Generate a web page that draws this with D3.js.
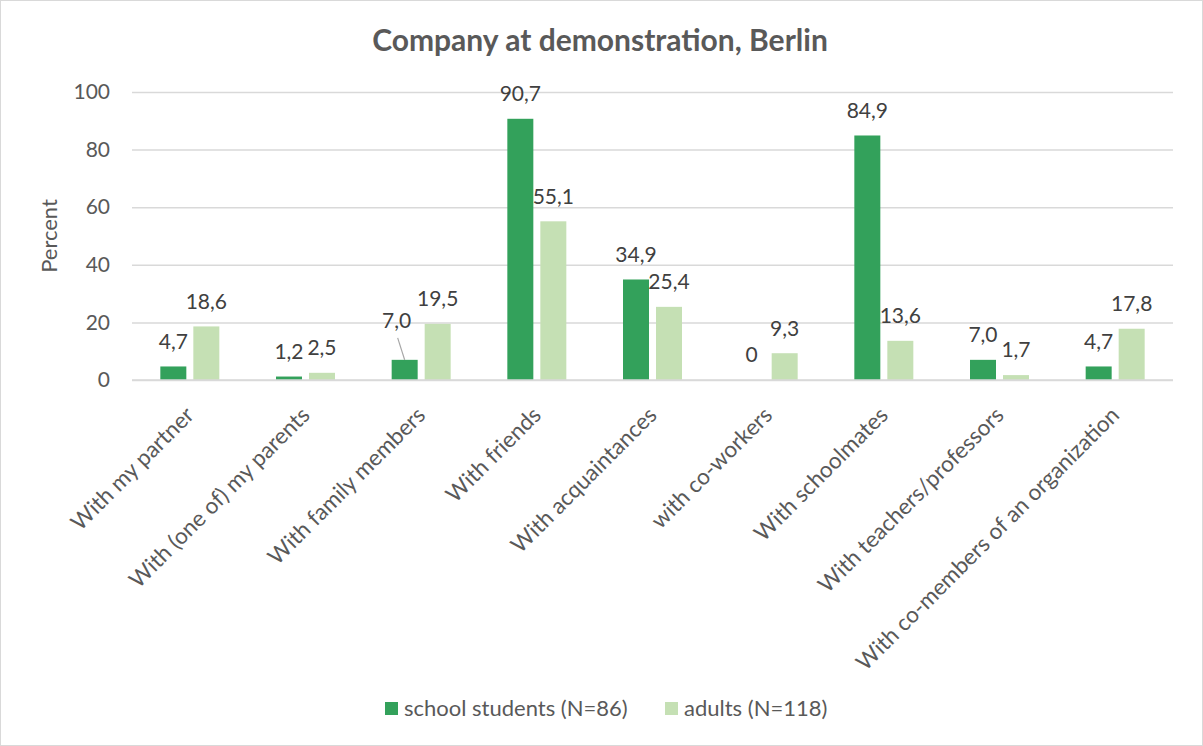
<!DOCTYPE html>
<html><head><meta charset="utf-8">
<script src="https://cdn.jsdelivr.net/npm/d3@7"></script>
<style>body{margin:0;background:#fff}svg{display:block}text{font-family:Lato,"Open Sans",sans-serif}</style>
</head><body>
<svg id="c" width="1203" height="746"></svg>
<script>
const categories = ["With my partner","With (one of) my parents","With family members","With friends","With acquaintances","with co-workers","With schoolmates","With teachers/professors","With co-members of an organization"];
const seriesNames = ["school students (N=86)","adults (N=118)"];
const schoolStudents = [4.7,1.2,7.0,90.7,34.9,0,84.9,7.0,4.7];
const adults = [18.6,2.5,19.5,55.1,25.4,9.3,13.6,1.7,17.8];
const yTicks = [0,20,40,60,80,100];
const colors = ["#33a15b","#c5e0b4"];

const svg = d3.select("#c");
const W=1203,H=746;
const m={left:132,right:1173,top:92,bottom:380};
svg.append("rect").attr("x",0.5).attr("y",0.5).attr("width",W-1).attr("height",H-1).attr("fill","#fff").attr("stroke","#d9d9d9");

const x = d3.scaleBand().domain(categories).range([m.left,m.right]);
const y = d3.scaleLinear().domain([0,100]).range([m.bottom,m.top]);
const barW = 26, gap = 7;
const x1 = d3.scaleOrdinal().domain([0,1]).range([-(gap/2+barW), gap/2]);

svg.append("text").attr("x",600).attr("y",51).attr("text-anchor","middle").attr("font-weight","bold").attr("font-size",30).attr("fill","#595959").text("Company at demonstration, Berlin");

const yAxis = d3.axisLeft(y).tickValues(yTicks).tickSize(-(m.right-m.left)).tickPadding(22).tickFormat(d3.format("d"));
const ga = svg.append("g").attr("transform",`translate(${m.left},0)`).call(yAxis);
ga.select(".domain").remove();
ga.selectAll(".tick line").attr("stroke","#d9d9d9").attr("stroke-width",1.5);
ga.selectAll(".tick text").attr("font-size",21).attr("fill","#595959").attr("font-family","Lato");

svg.append("text").attr("transform",`translate(57,${(m.top+m.bottom)/2}) rotate(-90)`).attr("text-anchor","middle").attr("font-size",22).attr("fill","#595959").text("Percent");

const series = [schoolStudents, adults];
const fmt = v => v===0 ? "0" : d3.format(".1f")(v).replace(".",",");
series.forEach((vals,si)=>{
  const g = svg.append("g");
  g.selectAll("rect").data(vals).enter().append("rect")
    .attr("x",(d,i)=>x(categories[i])+x.bandwidth()/2+x1(si))
    .attr("y",d=>y(d)).attr("width",barW).attr("height",d=>y(0)-y(d)).attr("fill",colors[si]);
});
svg.append("line").attr("x1",m.left).attr("x2",m.right).attr("y1",y(0)).attr("y2",y(0)).attr("stroke","#d9d9d9").attr("stroke-width",1.5);

series.forEach((vals,si)=>{
  vals.forEach((v,i)=>{
    const cx = x(categories[i])+x.bandwidth()/2+x1(si)+barW/2;
    let lx = cx, ly = y(v)-25;
    if(si===0 && i===2){ lx = cx-8; ly = y(v)-39;
      svg.append("line").attr("x1",lx+1).attr("y1",ly+17).attr("x2",cx).attr("y2",y(v)).attr("stroke","#a6a6a6").attr("stroke-width",1.2);
    }
    svg.append("text").attr("x",lx).attr("y",ly).attr("dy","0.35em").attr("text-anchor","middle").attr("font-size",21).attr("fill","#404040").text(fmt(v));
  });
});

categories.forEach((c,i)=>{
  const cx = x(c)+x.bandwidth()/2;
  svg.append("text").attr("transform",`translate(${cx},${411}) rotate(-45)`).attr("text-anchor","end").attr("dy","0.35em").attr("font-size",22.5).attr("fill","#595959").text(c);
});

const leg = svg.append("g");
const legX = [385,665];
seriesNames.forEach((n,i)=>{
  leg.append("rect").attr("x",legX[i]).attr("y",702).attr("width",13).attr("height",13).attr("fill",colors[i]);
  leg.append("text").attr("x",legX[i]+19).attr("y",708.5).attr("dy","0.35em").attr("font-size",22).attr("fill","#595959").text(n);
});
</script>
</body></html>
